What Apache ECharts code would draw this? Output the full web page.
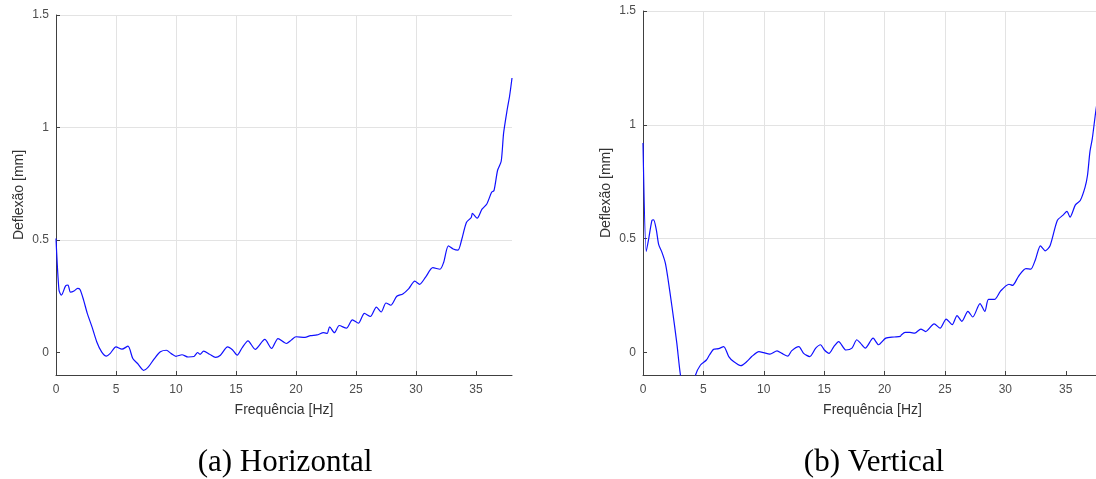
<!DOCTYPE html>
<html>
<head>
<meta charset="utf-8">
<title>Deflexão x Frequência</title>
<script src="https://cdn.jsdelivr.net/npm/echarts@6/dist/echarts.min.js"></script>
<style>
	html,body{margin:0;padding:0;background:#fff;overflow:hidden;}
	#chart{width:1110px;height:479px;}
</style>
</head>
<body>
<div id="chart"></div>
<script>
var xTicks = [0,5,10,15,20,25,30,35];
var yTicks = [0,0.5,1,1.5];

var horizFreq = [0,0.25,0.45,0.8,1.0,1.2,1.5,1.8,2.0,2.3,2.6,3.0,3.4,3.8,4.2,4.5,5.0,5.5,6.0,6.4,6.8,7.3,7.7,8.2,8.7,9.2,9.6,10,10.5,11,11.5,11.8,12.0,12.3,12.8,13.3,13.7,14.3,14.7,15.1,15.5,16,16.6,17.4,17.97,18.5,19.2,19.6,20,20.75,21.2,21.75,22.3,22.6,22.8,23.2,23.6,24.2,24.7,25.2,25.7,26.2,26.7,27.1,27.5,27.9,28.4,28.9,29.4,29.9,30.3,30.8,31.4,32,32.3,32.7,33.1,33.5,33.8,34.2,34.6,34.7,35.1,35.5,35.9,36.3,36.5,36.8,37.1,37.3,37.6,37.8,38];
var horizVal = [0.507,0.277,0.255,0.296,0.30,0.268,0.273,0.285,0.28,0.233,0.175,0.114,0.047,0.003,-0.016,-0.005,0.025,0.015,0.028,-0.027,-0.049,-0.079,-0.064,-0.027,0.003,0.01,-0.005,-0.017,-0.01,-0.02,-0.018,0.0,-0.008,0.006,-0.008,-0.022,-0.012,0.025,0.012,-0.012,0.02,0.052,0.014,0.058,0.018,0.062,0.04,0.055,0.07,0.067,0.075,0.078,0.088,0.085,0.114,0.088,0.12,0.108,0.145,0.13,0.174,0.16,0.202,0.18,0.22,0.21,0.25,0.26,0.284,0.317,0.303,0.335,0.377,0.37,0.4,0.474,0.46,0.455,0.5,0.578,0.6,0.618,0.597,0.637,0.66,0.712,0.72,0.81,0.85,0.975,1.08,1.14,1.22];

var vertFreq = [0,0.27,0.46,0.74,0.88,1.1,1.3,1.57,1.85,2.04,2.4,2.8,3.1,3.5,3.9,4.35,4.76,5.25,5.5,5.85,6.26,6.68,7.1,7.5,8.1,8.6,9.0,9.6,10,10.5,11.1,11.5,12.0,12.3,12.9,13.3,13.8,14.3,14.7,15,15.4,15.8,16.2,16.8,17.3,17.7,18.0,18.4,19.05,19.5,20.1,20.8,21.3,21.4,21.7,22.1,22.5,23.0,23.4,24.1,24.6,25.1,25.6,26.0,26.4,26.9,27.3,27.9,28.3,28.6,29.1,29.6,30.3,30.6,31.1,31.7,32.1,32.5,32.9,33.3,33.7,34.3,34.8,35.1,35.35,35.8,36.2,36.6,36.8,37.0,37.2,37.5,37.8,38];
var vertVal = [0.92,0.443,0.495,0.58,0.582,0.539,0.473,0.439,0.392,0.333,0.2,0.04,-0.1,-0.2,-0.2,-0.1,-0.056,-0.034,-0.012,0.013,0.016,0.025,-0.019,-0.041,-0.059,-0.041,-0.019,0.003,-0.002,-0.008,0.006,-0.005,-0.017,0.006,0.025,-0.005,-0.019,0.018,0.033,0.011,-0.005,0.025,0.047,0.01,0.018,0.055,0.04,0.018,0.062,0.033,0.062,0.067,0.07,0.077,0.087,0.087,0.084,0.102,0.091,0.125,0.106,0.146,0.121,0.161,0.136,0.18,0.155,0.214,0.18,0.232,0.232,0.269,0.299,0.294,0.335,0.368,0.365,0.409,0.468,0.446,0.468,0.579,0.604,0.619,0.594,0.648,0.667,0.726,0.778,0.881,0.94,1.065,1.16,1.22];

var captions = ["(a) Horizontal","(b) Vertical"];

function pairs(xs,ys){
	var out = [];
	for(var i=0;i<xs.length;i++){
		out.push([xs[i],ys[i]]);
	}
	return out;
}

var sans = "Liberation Sans";
var axisCol = "#404040";
var gridCol = "#e3e3e3";

function makeX(idx){
	return {
		type:"value", gridIndex:idx, min:0, max:38,
		name:"Frequência [Hz]", nameLocation:"middle", nameGap:28,
		nameTextStyle:{fontFamily:sans,fontSize:14,color:"#333"},
		axisLine:{onZero:false,lineStyle:{color:axisCol,width:1}},
		axisTick:{inside:true,length:4,customValues:xTicks,lineStyle:{color:axisCol}},
		axisLabel:{customValues:xTicks,margin:9,fontFamily:sans,fontSize:12,color:"#4d4d4d"},
		splitLine:{show:true,showMaxLine:false,lineStyle:{color:gridCol,width:1}}
	};
}
function makeY(idx){
	return {
		type:"value", gridIndex:idx, min:-0.1, max:1.5,
		name:"Deflexão [mm]", nameLocation:"middle", nameGap:30,
		nameTextStyle:{fontFamily:sans,fontSize:14,color:"#333"},
		axisLine:{show:true,lineStyle:{color:axisCol,width:1}},
		axisTick:{show:true,inside:true,length:4,customValues:yTicks,lineStyle:{color:axisCol}},
		axisLabel:{customValues:yTicks,margin:7,fontFamily:sans,fontSize:12,color:"#4d4d4d"},
		splitLine:{show:true,showMinLine:false,lineStyle:{color:gridCol,width:1}}
	};
}
function makeLine(idx,data){
	return {
		type:"line", xAxisIndex:idx, yAxisIndex:idx, data:data,
		showSymbol:false, smooth:0.25, clip:true, animation:false,
		lineStyle:{color:"#1010ff",width:1.2}
	};
}

var chart = echarts.init(document.getElementById("chart"),null,{renderer:"canvas"});
chart.setOption({
	backgroundColor:"#fff",
	animation:false,
	grid:[
		{left:56,top:15,width:456,height:360},
		{left:643,top:11,width:459,height:364}
	],
	xAxis:[makeX(0),makeX(1)],
	yAxis:[makeY(0),makeY(1)],
	series:[
		makeLine(0,pairs(horizFreq,horizVal)),
		makeLine(1,pairs(vertFreq,vertVal))
	],
	graphic:[
		{type:"text",x:285,y:463,style:{text:captions[0],font:"31px 'Liberation Serif'",fill:"#000",align:"center",verticalAlign:"middle"}},
		{type:"text",x:874,y:463,style:{text:captions[1],font:"31px 'Liberation Serif'",fill:"#000",align:"center",verticalAlign:"middle"}}
	]
});
</script>
</body>
</html>
